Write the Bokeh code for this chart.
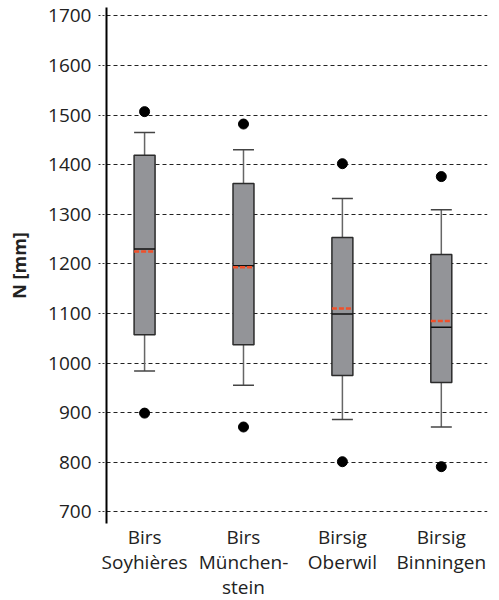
from bokeh.plotting import figure
from bokeh.models import Range1d, FixedTicker
from bokeh.embed import file_html
from bokeh.resources import INLINE

# Data
categories = ["Birs\nSoyhières", "Birs\nMünchen-\nstein", "Birsig\nOberwil", "Birsig\nBinningen"]
positions = [1, 2, 3, 4]
q1 = [1057, 1037, 975, 961]
q3 = [1419, 1362, 1253, 1219]
median = [1230, 1196, 1099, 1072]
mean = [1225, 1193, 1110, 1085]
whisker_low = [984, 955, 886, 871]
whisker_high = [1465, 1430, 1332, 1309]
outlier_high = [1507, 1482, 1402, 1376]
outlier_low = [899, 871, 801, 791]
y_ticks = [700, 800, 900, 1000, 1100, 1200, 1300, 1400, 1500, 1600, 1700]

FONT = "Open Sans"
BOX_W = 0.212
CAP_W = 0.212

p = figure(frame_width=381, frame_height=516, output_backend="svg", toolbar_location=None,
           x_range=Range1d(0.615, 4.467), y_range=Range1d(676.4, 1717.0),
           min_border_left=106, min_border_right=12, min_border_top=7, min_border_bottom=77)
p.outline_line_color = None
p.background_fill_color = "white"
p.border_fill_color = "white"

# grid
p.xgrid.grid_line_color = None
p.ygrid.ticker = FixedTicker(ticks=y_ticks)
p.ygrid.grid_line_color = "#222222"
p.ygrid.grid_line_dash = "4 3"
p.ygrid.grid_line_width = 1

# y axis
p.yaxis.ticker = FixedTicker(ticks=y_ticks)
p.yaxis.axis_line_width = 2
p.yaxis.axis_line_color = "black"
p.yaxis.major_tick_in = 0
p.yaxis.major_tick_out = 8
p.yaxis.major_tick_line_dash = "2 2"
p.yaxis.major_tick_line_color = "#333333"
p.yaxis.minor_tick_line_color = None
p.yaxis.major_label_text_font = FONT
p.yaxis.major_label_text_font_size = "19px"
p.yaxis.major_label_text_color = "#222222"
p.yaxis.major_label_standoff = 7
p.yaxis.axis_label = "N [mm]"
p.yaxis.axis_label_text_font = FONT
p.yaxis.axis_label_text_font_size = "18px"
p.yaxis.axis_label_text_font_style = "bold"
p.yaxis.axis_label_text_color = "#222222"
p.yaxis.axis_label_standoff = 14

# x axis
p.xaxis.ticker = FixedTicker(ticks=positions)
p.xaxis.major_label_overrides = {pos: lab for pos, lab in zip(positions, categories)}
p.xaxis.axis_line_color = None
p.xaxis.major_tick_line_color = None
p.xaxis.minor_tick_line_color = None
p.xaxis.major_label_text_font = FONT
p.xaxis.major_label_text_font_size = "19px"
p.xaxis.major_label_text_color = "#222222"
p.xaxis.major_label_text_line_height = 0.97
p.xaxis.major_label_standoff = 0
p.xaxis.major_tick_out = 0
p.xaxis.major_tick_in = 0

# whisker stems
p.segment(x0=positions, y0=q3, x1=positions, y1=whisker_high, line_color="#666666", line_width=1.5)
p.segment(x0=positions, y0=whisker_low, x1=positions, y1=q1, line_color="#666666", line_width=1.5)
# caps
left = [x - CAP_W / 2 for x in positions]
right = [x + CAP_W / 2 for x in positions]
p.segment(x0=left, y0=whisker_high, x1=right, y1=whisker_high, line_color="#444444", line_width=1.5)
p.segment(x0=left, y0=whisker_low, x1=right, y1=whisker_low, line_color="#444444", line_width=1.5)

# boxes
p.vbar(x=positions, width=BOX_W, bottom=q1, top=q3, fill_color="#939498",
       line_color="#2b2b2b", line_width=1.5)

# median and mean
bl = [x - BOX_W / 2 for x in positions]
br = [x + BOX_W / 2 for x in positions]
p.segment(x0=bl, y0=median, x1=br, y1=median, line_color="#111111", line_width=1.5)
p.segment(x0=bl, y0=mean, x1=br, y1=mean, line_color="#f0502a", line_width=2.5, line_dash="5 2")

# outliers
p.scatter(x=positions + positions, y=outlier_high + outlier_low, size=10,
          fill_color="black", line_color="black")

open("out.html", "w").write(file_html(p, INLINE))
